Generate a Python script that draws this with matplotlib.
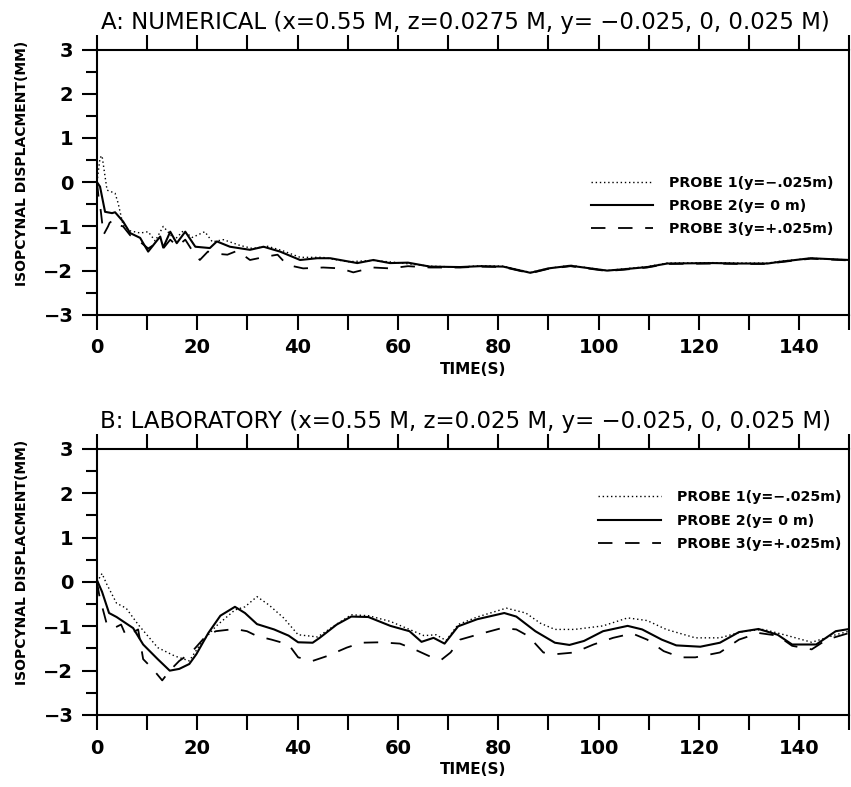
import matplotlib
matplotlib.use("Agg")
from matplotlib import pyplot as plt
from matplotlib.ticker import MultipleLocator

# Panel A: numerical
t_num_p1 = [0, 0.6, 1.0, 2.0, 3.6, 4.2, 5.2, 6.6, 8.6, 10.2, 11.6, 13.2, 15.5, 17.2, 19.0,
            21.5, 23.0, 25.2, 28.5, 31.0, 34.0, 37.0, 40.5, 45.0, 50.0, 55.0, 60.0, 66.4,
            72.4, 76.4, 81.0, 86.4, 90.0, 94.4, 101.7, 105.0, 109.7, 113.7, 122.9, 128.0,
            133.7, 136.2, 142.3, 150.0]
num_p1 = [0, 0.55, 0.6, -0.18, -0.25, -0.47, -0.97, -1.1, -1.15, -1.12, -1.33, -1.0, -1.3,
          -1.1, -1.25, -1.12, -1.35, -1.3, -1.43, -1.5, -1.45, -1.55, -1.7, -1.7, -1.8, -1.77,
          -1.82, -1.9, -1.92, -1.89, -1.9, -2.04, -1.95, -1.88, -2.0, -1.96, -1.91, -1.83,
          -1.82, -1.83, -1.83, -1.79, -1.72, -1.76]

t_num_p2 = [0, 0.6, 1.6, 3.0, 3.6, 5.2, 6.6, 8.6, 10.2, 11.6, 12.6, 13.2, 14.6, 15.9, 17.6,
            19.6, 22.5, 23.9, 26.5, 30.5, 33.2, 36.5, 40.5, 43.9, 46.5, 51.9, 55.1, 58.4,
            62.0, 66.4, 72.4, 76.4, 81.0, 86.4, 90.0, 94.4, 101.7, 105.0, 109.7, 113.7,
            122.9, 128.0, 133.7, 136.2, 142.3, 150.0]
num_p2 = [0, -0.10, -0.67, -0.70, -0.68, -0.89, -1.15, -1.26, -1.57, -1.37, -1.23, -1.48,
          -1.12, -1.38, -1.12, -1.46, -1.49, -1.34, -1.46, -1.53, -1.46, -1.57, -1.76, -1.72,
          -1.72, -1.83, -1.76, -1.83, -1.82, -1.91, -1.92, -1.90, -1.91, -2.05, -1.95, -1.89,
          -2.0, -1.97, -1.92, -1.84, -1.83, -1.84, -1.84, -1.80, -1.72, -1.76]

t_num_p3 = [0, 0.3, 0.7, 1.3, 2.2, 2.5, 3.3, 4.2, 5.2, 6.6, 8.6, 10.2, 11.6, 13.2, 14.6, 16.0,
            17.6, 19.0, 20.5, 22.1, 24.0, 26.0, 28.0, 30.5, 33.9, 36.0, 37.9, 41.1, 45.1,
            48.5, 51.1, 55.0, 58.4, 62.0, 66.4, 72.4, 76.4, 81.0, 86.4, 90.0, 94.4, 101.7,
            105.0, 109.7, 113.7, 122.9, 128.0, 133.7, 136.2, 142.3, 150.0]
num_p3 = [0, -0.33, -0.6, -1.19, -1.0, -0.92, -0.85, -0.97, -1.0, -1.2, -1.35, -1.5, -1.4,
          -1.5, -1.3, -1.45, -1.3, -1.55, -1.76, -1.57, -1.62, -1.64, -1.55, -1.76, -1.68,
          -1.64, -1.87, -1.95, -1.93, -1.95, -2.04, -1.93, -1.95, -1.9, -1.93, -1.93, -1.91,
          -1.92, -2.06, -1.96, -1.9, -2.01, -1.98, -1.93, -1.85, -1.84, -1.85, -1.85, -1.81,
          -1.73, -1.77]

# Panel B: laboratory
t_lab_p1 = [0, 1.0, 1.9, 3.9, 5.8, 8.2, 12.1, 15.5, 18.4, 20.8, 23.7, 27.5, 29.5, 31.9, 34.3,
            37.2, 40.1, 44.0, 47.8, 50.7, 54.1, 58.5, 62.3, 65.2, 67.6, 69.6, 72.0, 75.8,
            81.6, 85.5, 88.4, 91.3, 95.2, 100.9, 105.8, 109.7, 113.5, 119.3, 124.2, 129.0,
            132.9, 137.7, 142.5, 147.3, 150.0]
lab_p1 = [0, 0.19, -0.04, -0.48, -0.59, -0.96, -1.48, -1.67, -1.78, -1.37, -1.0, -0.63,
          -0.56, -0.33, -0.52, -0.81, -1.19, -1.24, -0.95, -0.74, -0.76, -0.89, -1.07, -1.21,
          -1.19, -1.32, -0.96, -0.79, -0.59, -0.70, -0.93, -1.07, -1.07, -0.99, -0.81, -0.87,
          -1.07, -1.26, -1.26, -1.11, -1.07, -1.21, -1.36, -1.19, -1.11]

t_lab_p2 = [0, 1.0, 2.4, 3.9, 7.2, 9.2, 12.1, 14.5, 16.4, 18.4, 19.8, 22.2, 24.6, 27.5, 29.5,
            31.9, 35.3, 38.2, 40.1, 43.0, 44.4, 47.8, 50.7, 54.1, 58.5, 62.3, 64.7, 67.1,
            69.3, 72.0, 75.8, 81.2, 83.6, 87.4, 91.3, 94.2, 97.1, 100.9, 105.8, 108.7, 112.6,
            115.5, 120.3, 124.2, 128.0, 131.9, 135.7, 138.6, 143.4, 147.3, 150.0]
lab_p2 = [0.04, -0.22, -0.70, -0.79, -1.04, -1.41, -1.74, -2.0, -1.96, -1.85, -1.63, -1.15,
          -0.76, -0.56, -0.70, -0.95, -1.07, -1.21, -1.36, -1.37, -1.26, -0.96, -0.78, -0.79,
          -0.99, -1.11, -1.35, -1.26, -1.39, -1.0, -0.84, -0.70, -0.78, -1.11, -1.37, -1.42,
          -1.33, -1.11, -0.99, -1.07, -1.30, -1.43, -1.46, -1.37, -1.13, -1.06, -1.19, -1.41,
          -1.41, -1.11, -1.06]

t_lab_p3 = [0, 0.5, 1.9, 3.2, 4.8, 5.8, 8.2, 9.2, 11.1, 13.0, 14.5, 16.4, 18.8, 21.7, 23.7,
            27.5, 29.9, 31.9, 34.8, 38.2, 40.1, 43.0, 45.9, 49.8, 52.7, 56.5, 60.4, 63.3,
            66.2, 68.6, 70.5, 72.4, 75.8, 80.7, 83.6, 86.0, 89.0, 91.3, 95.2, 99.0, 102.9,
            106.7, 109.7, 113.0, 116.4, 119.3, 124.2, 128.0, 131.9, 135.7, 138.6, 142.5,
            145.5, 150.0]
lab_p3 = [0, -0.33, -0.93, -1.05, -0.96, -1.22, -1.07, -1.74, -1.96, -2.22, -2.0, -1.78,
          -1.59, -1.22, -1.11, -1.06, -1.11, -1.22, -1.30, -1.41, -1.70, -1.78, -1.67, -1.48,
          -1.37, -1.36, -1.39, -1.52, -1.67, -1.76, -1.59, -1.30, -1.19, -1.04, -1.07, -1.22,
          -1.59, -1.63, -1.59, -1.41, -1.26, -1.16, -1.30, -1.56, -1.70, -1.70, -1.59, -1.30,
          -1.15, -1.21, -1.44, -1.52, -1.30, -1.15]

labels = ["PROBE 1(y=\u2212.025m)", "PROBE 2(y= 0 m)", "PROBE 3(y=+.025m)"]
titles = ["A: NUMERICAL (x=0.55 M, z=0.0275 M, y= \u22120.025, 0, 0.025 M)",
          "B: LABORATORY (x=0.55 M, z=0.025 M, y= \u22120.025, 0, 0.025 M)"]

fig = plt.figure(figsize=(8.51, 7.87), dpi=100)
ax_a = fig.add_axes([0.114, 0.600, 0.884, 0.337])
ax_b = fig.add_axes([0.114, 0.0915, 0.884, 0.338])

# (axes, series, legend anchor, ylabel centre)
panels = [
    (ax_a, [(t_num_p1, num_p1), (t_num_p2, num_p2), (t_num_p3, num_p3)], (0.656, 0.525), 0.57),
    (ax_b, [(t_lab_p1, lab_p1), (t_lab_p2, lab_p2), (t_lab_p3, lab_p3)], (0.666, 0.845), 0.575),
]
styles = [
    dict(ls=(0, (1, 2)), lw=1.0),
    dict(ls="-", lw=1.5),
    dict(ls=(0, (8, 7)), lw=1.3),
]

for i, (ax, series, leg_pos, ylab_y) in enumerate(panels):
    for (t, v), st, lab in zip(series, styles, labels):
        ax.plot(t, v, color="black", label=lab, **st)

    ax.set_xlim(0, 150)
    ax.set_ylim(-3, 3)
    ax.xaxis.set_major_locator(MultipleLocator(20))
    ax.xaxis.set_minor_locator(MultipleLocator(10))
    ax.yaxis.set_minor_locator(MultipleLocator(0.5))
    ax.tick_params(axis="x", which="both", direction="out", length=11, width=1.5,
                   top=True, bottom=True, labeltop=False, pad=6)
    ax.tick_params(axis="y", which="major", direction="out", length=11, width=1.5, pad=6)
    ax.tick_params(axis="y", which="minor", direction="out", length=8, width=1.5)
    ax.tick_params(axis="both", labelsize=14)
    for lbl in ax.get_xticklabels():
        lbl.set_fontweight("bold")
    ax.set_yticks([3, 2, 1, 0, -1, -2, -3])
    ax.set_yticklabels(["3", "2", "1", "0", "\u22121", "\u22122", "\u22123"],
                       fontweight="bold", fontsize=14)
    for sp in ax.spines.values():
        sp.set_linewidth(1.5)

    ax.set_xlabel("TIME(S)", fontsize=11, fontweight="bold", labelpad=3)
    ax.set_ylabel("ISOPCYNAL DISPLACMENT(MM)", fontsize=10, fontweight="bold")
    ax.yaxis.set_label_coords(-0.090, ylab_y)
    ax.set_title(titles[i], fontsize=16.5, pad=15, x=0.49)

    ax.legend(loc="upper left", bbox_to_anchor=leg_pos, frameon=False, borderpad=0,
              borderaxespad=0, handlelength=4.4, handletextpad=1.1, labelspacing=0.65,
              prop=dict(size=10.3, weight="bold"))

fig.savefig("out.png", dpi=100)
